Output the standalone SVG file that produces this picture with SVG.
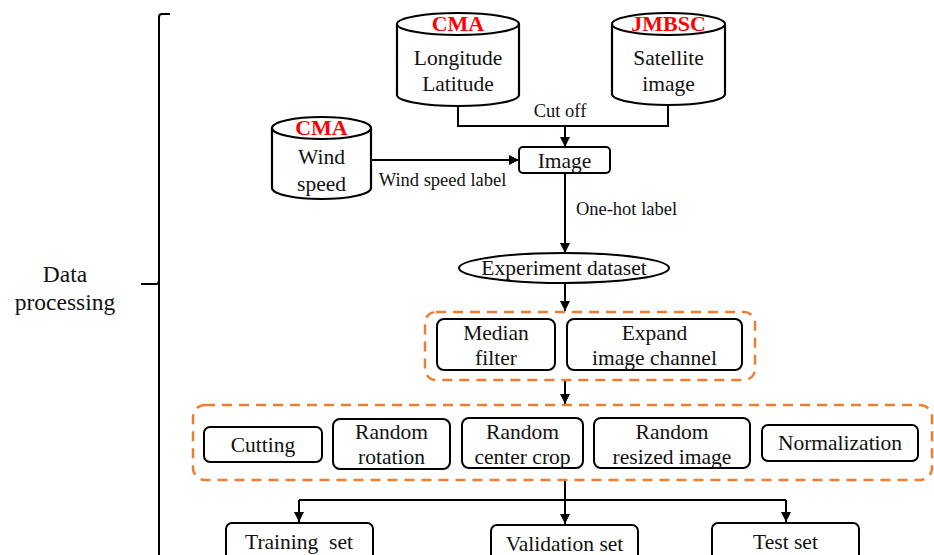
<svg xmlns="http://www.w3.org/2000/svg" width="934" height="555" viewBox="0 0 934 555" font-family="'Liberation Serif', 'DejaVu Serif', serif">
<style>
  text { font-family: 'Liberation Serif', 'DejaVu Serif', serif; fill: #111; text-anchor: middle; }
  .t { font-size: 21.5px; }
  .s { font-size: 18.5px; }
  .src { font-size: 22px; font-weight: bold; fill: #ff0000; }
  .big { font-size: 23.5px; }
  .box { fill: #fff; stroke: #000; stroke-width: 2; }
  .cyl { fill: #fff; stroke: #000; stroke-width: 2.2; }
  .grp { fill: none; stroke: #ed7d31; stroke-width: 2.5; stroke-dasharray: 10 7; }
  .ln { fill: none; stroke: #000; stroke-width: 2; }
  .arr { fill: none; stroke: #000; stroke-width: 2; marker-end: url(#ah); }
</style>
<defs>
  <marker id="ah" viewBox="0 0 10 10" refX="10" refY="5" markerWidth="5" markerHeight="5" orient="auto" markerUnits="strokeWidth">
    <path d="M0 0 L10 5 L0 10 z" fill="#000"/>
  </marker>
</defs>
<rect width="934" height="555" fill="#fff"/>

<g id="brace">
  <path class="ln" d="M170 14 H162 Q159 14 159 17 V555 M141 284 H156 Q159 284 159 281"/>
</g>
<g id="label-data-processing">
  <text class="big" x="65" y="282">Data</text>
  <text class="big" x="65" y="310">processing</text>
</g>

<g id="connectors">
  <path class="ln" d="M458 106 V126 H668 V105"/>
  <path class="arr" d="M565 126 V147"/>
  <path class="arr" d="M371 160 H519"/>
  <path class="arr" d="M565 173 V253"/>
  <path class="arr" d="M565 283 V311"/>
  <path class="arr" d="M565 380 V404"/>
  <path class="arr" d="M565 480 V524"/>
  <path class="ln" d="M299 500 H786"/>
  <path class="arr" d="M299 500 V522"/>
  <path class="arr" d="M786 500 V522"/>
  <text class="s" x="560" y="117">Cut off</text>
  <text class="s" x="442.5" y="186">Wind speed label</text>
  <text class="s" x="626.5" y="215">One-hot label</text>
</g>

<g id="cma-lonlat">
  <path class="cyl" d="M397 24 V95 A61 11 0 0 0 519 95 V24"/>
  <ellipse class="cyl" cx="458" cy="24" rx="61" ry="11"/>
  <text class="src" x="458" y="31">CMA</text>
  <text class="t" x="458" y="65">Longitude</text>
  <text class="t" x="458" y="91">Latitude</text>
</g>

<g id="jmbsc-satellite">
  <path class="cyl" d="M612 24 V94 A56.5 11 0 0 0 725 94 V24"/>
  <ellipse class="cyl" cx="668.5" cy="24" rx="56.5" ry="11"/>
  <text class="src" x="668.5" y="31">JMBSC</text>
  <text class="t" x="668.5" y="65">Satellite</text>
  <text class="t" x="668.5" y="91">image</text>
</g>

<g id="cma-wind">
  <path class="cyl" d="M272 128 V188 A49.5 11 0 0 0 371 188 V128"/>
  <ellipse class="cyl" cx="321.5" cy="128" rx="49.5" ry="11"/>
  <text class="src" x="321.5" y="135">CMA</text>
  <text class="t" x="321.5" y="164">Wind</text>
  <text class="t" x="321.5" y="191">speed</text>
</g>

<g id="image">
  <rect class="box" x="519" y="147" width="91" height="26" rx="4"/>
  <text class="t" x="564.5" y="168">Image</text>
</g>

<g id="experiment-dataset">
  <ellipse class="box" cx="564" cy="268" rx="105" ry="15"/>
  <text class="t" x="564" y="275">Experiment dataset</text>
</g>

<g id="group-preprocess">
  <rect class="grp" x="425" y="312" width="330" height="68" rx="11"/>
</g>
<g id="median-filter">
  <rect class="box" x="437" y="319" width="118" height="51" rx="7"/>
  <text class="t" x="496" y="340">Median</text>
  <text class="t" x="496" y="365">filter</text>
</g>
<g id="expand-channel">
  <rect class="box" x="567" y="319" width="175" height="51" rx="7"/>
  <text class="t" x="654.5" y="340">Expand</text>
  <text class="t" x="654.5" y="365">image channel</text>
</g>

<g id="group-augment">
  <rect class="grp" x="193" y="405" width="739" height="75" rx="12"/>
</g>
<g id="cutting">
  <rect class="box" x="204" y="427" width="118" height="35" rx="6"/>
  <text class="t" x="263" y="452">Cutting</text>
</g>
<g id="random-rotation">
  <rect class="box" x="333" y="419" width="117" height="50" rx="7"/>
  <text class="t" x="391.5" y="439">Random</text>
  <text class="t" x="391.5" y="464">rotation</text>
</g>
<g id="random-center-crop">
  <rect class="box" x="462" y="418" width="121" height="50" rx="7"/>
  <text class="t" x="522.5" y="439">Random</text>
  <text class="t" x="522.5" y="464">center crop</text>
</g>
<g id="random-resized-image">
  <rect class="box" x="594" y="418" width="156" height="50" rx="7"/>
  <text class="t" x="672" y="439">Random</text>
  <text class="t" x="672" y="464">resized image</text>
</g>
<g id="normalization">
  <rect class="box" x="762" y="425" width="156" height="36" rx="6"/>
  <text class="t" x="840" y="450">Normalization</text>
</g>

<g id="training-set">
  <rect class="box" x="226" y="523" width="147" height="45" rx="6"/>
  <text class="t" x="299" y="549" xml:space="preserve">Training  set</text>
</g>
<g id="validation-set">
  <rect class="box" x="491" y="525" width="147" height="45" rx="6"/>
  <text class="t" x="564.5" y="551">Validation set</text>
</g>
<g id="test-set">
  <rect class="box" x="712" y="523" width="147" height="45" rx="6"/>
  <text class="t" x="785.5" y="549">Test set</text>
</g>
</svg>
